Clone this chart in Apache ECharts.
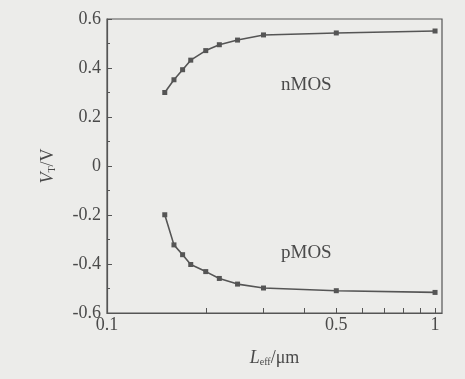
<!DOCTYPE html>
<html>
<head>
<meta charset="utf-8">
<script src="https://cdn.jsdelivr.net/npm/echarts@6/dist/echarts.min.js"></script>
<style>
html,body{margin:0;padding:0;background:#ececea;}
#chart{width:465px;height:379px;}
</style>
</head>
<body>
<div id="chart"></div>
<script>
const lengths = [0.15, 0.16, 0.17, 0.18, 0.2, 0.22, 0.25, 0.3, 0.5, 1];
const nmosVT = [0.300, 0.352, 0.393, 0.432, 0.471, 0.495, 0.514, 0.535, 0.543, 0.551];
const pmosVT = [-0.199, -0.322, -0.362, -0.402, -0.431, -0.459, -0.482, -0.498, -0.509, -0.516];
const xTickLabels = [0.1, 0.5, 1];
const xMinorTicks = [0.1, 0.2, 0.3, 0.4, 0.5, 0.6, 0.7, 0.8, 0.9, 1];
const yTicks = [-0.6, -0.4, -0.2, 0, 0.2, 0.4, 0.6];
const seriesNames = ['nMOS', 'pMOS'];

const txt = '#4a4a4a';
const line = '#555555';
const font = 'Liberation Serif';

function pairs(xs, ys){ return xs.map((x,i)=>[x, ys[i]]); }

const chart = echarts.init(document.getElementById('chart'));
chart.setOption({
  backgroundColor: '#ececea',
  animation: false,
  grid: {left: 107, right: 23, top: 19, bottom: 66, show: true, borderColor: line, borderWidth: 1.2, backgroundColor: 'transparent'},
  xAxis: {
    type: 'log', logBase: 10, min: 0.1, max: 1.05,
    axisLine: {show: true, onZero: false, lineStyle: {color: line, width: 1.2}},
    axisTick: {show: true, inside: true, length: 5, customValues: xMinorTicks, lineStyle: {color: line}},
    axisLabel: {customValues: xTickLabels, color: txt, fontFamily: font, fontSize: 18, margin: 3,
      formatter: v => String(+v.toFixed(2))},
    splitLine: {show: false},
    name: '{i|L}{s|eff}{n|/μm}',
    nameLocation: 'middle', nameGap: 36,
    nameTextStyle: {rich: {
      i: {fontFamily: font, fontStyle: 'italic', fontSize: 18, color: txt},
      s: {fontFamily: font, fontSize: 10, color: txt, verticalAlign: 'bottom', padding: [8,0,0,0]},
      n: {fontFamily: font, fontSize: 18, color: txt}
    }}
  },
  yAxis: {
    type: 'value', min: -0.6, max: 0.6, interval: 0.2,
    axisLine: {show: true, onZero: false, lineStyle: {color: line, width: 1.2}},
    axisTick: {show: true, inside: true, length: 5, lineStyle: {color: line}},
    minorTick: {show: true, splitNumber: 2, length: 3, lineStyle: {color: line}},
    axisLabel: {color: txt, fontFamily: font, fontSize: 18, margin: 6,
      formatter: v => String(+v.toFixed(1))},
    splitLine: {show: false},
    name: '{i|V}{s|T}{n|/V}',
    nameLocation: 'middle', nameGap: 50, nameRotate: 90,
    nameTextStyle: {rich: {
      i: {fontFamily: font, fontStyle: 'italic', fontSize: 18, color: txt},
      s: {fontFamily: font, fontSize: 10, color: txt, padding: [8,0,0,0]},
      n: {fontFamily: font, fontSize: 18, color: txt}
    }}
  },
  series: [
    {name: seriesNames[0], type: 'line', data: pairs(lengths, nmosVT),
     symbol: 'rect', symbolSize: 5, lineStyle: {color: line, width: 1.6}, itemStyle: {color: line}},
    {name: seriesNames[1], type: 'line', data: pairs(lengths, pmosVT),
     symbol: 'rect', symbolSize: 5, lineStyle: {color: line, width: 1.6}, itemStyle: {color: line}}
  ],
  graphic: [
    {type: 'text', left: 281, top: 76, style: {text: seriesNames[0], font: '19px "Liberation Serif"', fill: txt}},
    {type: 'text', left: 281, top: 244, style: {text: seriesNames[1], font: '19px "Liberation Serif"', fill: txt}}
  ]
});
</script>
</body>
</html>
